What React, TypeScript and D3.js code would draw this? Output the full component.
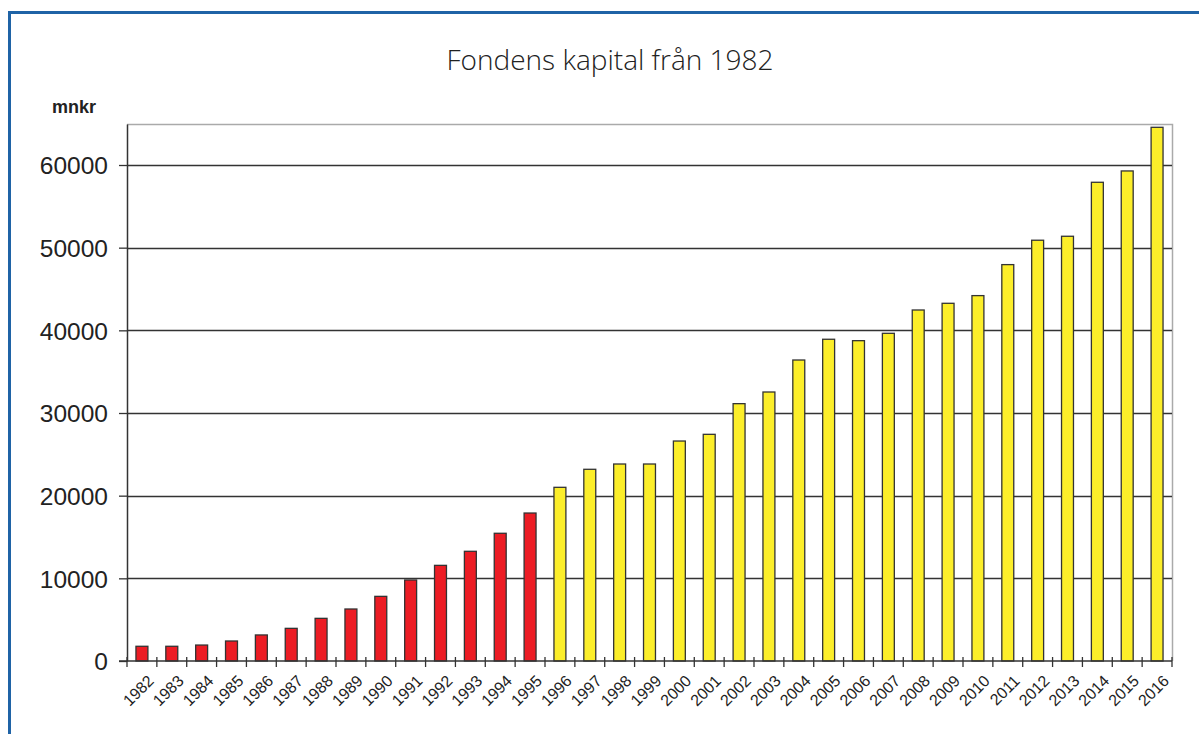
import React, {useEffect, useRef} from 'react'
import * as d3 from 'd3'

const width = 1199
const height = 734
const margin = {top: 124, right: 27, bottom: 73, left: 127}
const innerWidth = width - margin.left - margin.right
const innerHeight = height - margin.top - margin.bottom

const years = [
  '1982', '1983', '1984', '1985', '1986', '1987', '1988', '1989', '1990', '1991',
  '1992', '1993', '1994', '1995', '1996', '1997', '1998', '1999', '2000', '2001',
  '2002', '2003', '2004', '2005', '2006', '2007', '2008', '2009', '2010', '2011',
  '2012', '2013', '2014', '2015', '2016',
]
const capital = [
  1780, 1780, 1930, 2420, 3150, 3950, 5160, 6290, 7820, 9800,
  11570, 13270, 15450, 17900, 21010, 23190, 23830, 23830, 26610, 27420,
  31130, 32540, 36410, 38920, 38750, 39640, 42460, 43270, 44200, 47950,
  50900, 51380, 57910, 59280, 64560,
]
const lastRedYear = '1995'
const yTicks = [0, 10000, 20000, 30000, 40000, 50000, 60000]

const App = () => {
  const chartRef = useRef<SVGSVGElement>(null)

  useEffect(() => {
    drawChart()
  }, [])

  const drawChart = () => {
    const svg = d3.select(chartRef.current)
    svg.selectAll('*').remove()

    // blue frame
    svg.append('path')
      .attr('d', `M9.5,${height + 5} V12.5 H${width + 5}`)
      .attr('fill', 'none')
      .attr('stroke', '#1f63a6')
      .attr('stroke-width', 3)

    svg.append('text')
      .attr('x', 610)
      .attr('y', 70)
      .attr('text-anchor', 'middle')
      .style('font-family', 'Open Sans, Liberation Sans, sans-serif')
      .style('font-size', '28px')
      .style('font-weight', 300)
      .attr('fill', '#222')
      .text('Fondens kapital från 1982')

    svg.append('text')
      .attr('x', 52)
      .attr('y', 113)
      .style('font-family', 'Liberation Sans, Arial, sans-serif')
      .style('font-size', '18px')
      .style('font-weight', 'bold')
      .attr('fill', '#222')
      .text('mnkr')

    const xScale = d3.scaleBand().domain(years).range([0, innerWidth]).paddingInner(0.6).paddingOuter(0.3)
    const xTick = d3.scaleBand().domain(years).range([0, innerWidth])
    const yScale = d3.scaleLinear().domain([0, 64960]).range([innerHeight, 0])

    const g = svg.append('g').attr('transform', `translate(${margin.left},${margin.top})`)

    // plot border (top/right)
    g.append('path')
      .attr('d', `M0,0.5 H${innerWidth + 0.5} V${innerHeight}`)
      .attr('fill', 'none')
      .attr('stroke', '#aaa')
      .attr('stroke-width', 1.5)

    g.selectAll('.grid')
      .data(yTicks.slice(1))
      .enter()
      .append('line')
      .attr('x1', 0)
      .attr('x2', innerWidth)
      .attr('y1', d => Math.round(yScale(d)) + 0.5)
      .attr('y2', d => Math.round(yScale(d)) + 0.5)
      .attr('stroke', '#333')
      .attr('stroke-width', 1.3)

    g.selectAll('.bar')
      .data(years)
      .enter()
      .append('rect')
      .attr('x', d => xScale(d)!)
      .attr('y', (d, i) => yScale(capital[i]))
      .attr('width', xScale.bandwidth())
      .attr('height', (d, i) => innerHeight - yScale(capital[i]))
      .attr('fill', d => (+d <= +lastRedYear ? '#ec1c24' : '#fcee2a'))
      .attr('stroke', '#333')
      .attr('stroke-width', 1.3)

    // y axis
    const yAxis = g.append('g')
      .call(d3.axisLeft(yScale).tickValues(yTicks).tickSize(8).tickSizeOuter(0).tickPadding(11).tickFormat(d => String(d)))
    yAxis.select('.domain').attr('stroke', '#333').attr('stroke-width', 1.5)
    yAxis.selectAll('line').attr('stroke', '#333').attr('stroke-width', 1.3)
    yAxis.selectAll('text')
      .style('font-family', 'Liberation Sans, Arial, sans-serif')
      .style('font-size', '24.5px')
      .attr('fill', '#222')
      .attr('dy', '0.36em')

    // x axis: ticks at band boundaries
    const xAxis = g.append('g').attr('transform', `translate(0,${innerHeight})`)
    xAxis.append('line')
      .attr('x1', -8)
      .attr('x2', innerWidth)
      .attr('stroke', '#333')
      .attr('stroke-width', 1.5)
    xAxis.selectAll('.tick')
      .data([...years.map(d => xTick(d)!), innerWidth])
      .enter()
      .append('line')
      .attr('x1', d => d)
      .attr('x2', d => d)
      .attr('y1', -4)
      .attr('y2', 6)
      .attr('stroke', '#333')
      .attr('stroke-width', 1.3)
    xAxis.selectAll('.label')
      .data(years)
      .enter()
      .append('text')
      .attr('transform', d => `translate(${xTick(d)! + xTick.bandwidth() / 2 + 5},${13}) rotate(-45)`)
      .attr('text-anchor', 'end')
      .attr('dy', '0.7em')
      .style('font-family', 'Liberation Sans, Arial, sans-serif')
      .style('font-size', '16px')
      .attr('fill', '#222')
      .text(d => d)
  }

  return (
    <svg
      ref={chartRef}
      width={width}
      height={height}
      style={{position: 'absolute', left: 0, top: 0, background: '#fff'}}
    ></svg>
  )
}

export default App
